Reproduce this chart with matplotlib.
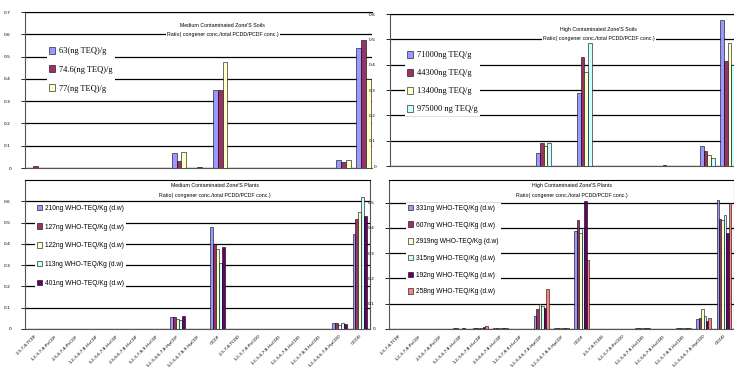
import numpy as np
import matplotlib.pyplot as plt

# congeners on the x axis (furans first, then dioxins)
congeners = ['2,3,7,8-TCDF', '1,2,3,7,8-PeCDF', '2,3,4,7,8-PeCDF',
             '1,2,3,4,7,8-HxCDF', '1,2,3,6,7,8-HxCDF', '2,3,4,6,7,8-HxCDF',
             '1,2,3,7,8,9-HxCDF', '1,2,3,4,6,7,8-HpCDF', '1,2,3,4,7,8,9-HpCDF',
             'OCDF', '2,3,7,8-TCDD', '1,2,3,7,8-PeCDD', '1,2,3,4,7,8-HxCDD',
             '1,2,3,6,7,8-HxCDD', '1,2,3,7,8,9-HxCDD', '1,2,3,4,6,7,8-HpCDD',
             'OCDD']

# medium contaminated soils
mso_labels = ['63(ng TEQ)/g', '74.6(ng TEQ)/g', '77(ng TEQ)/g']
mso_1 = [0, 0, 0, 0, 0, 0, 0, 0.067, 0, 0.35, 0, 0, 0, 0, 0, 0.035, 0.54]
mso_2 = [0.01, 0, 0, 0, 0, 0, 0, 0.03, 0.005, 0.35, 0, 0, 0, 0, 0, 0.027, 0.575]
mso_3 = [0, 0, 0, 0, 0, 0, 0, 0.072, 0, 0.475, 0, 0, 0, 0, 0, 0.035, 0.40]

# high contaminated soils
hso_labels = ['71000ng TEQ/g', '44300ng TEQ/g', '13400ng TEQ/g', '975000 ng TEQ/g']
hso_1 = [0, 0, 0, 0, 0, 0, 0, 0.05, 0, 0.29, 0, 0, 0, 0, 0, 0.08, 0.575]
hso_2 = [0, 0, 0, 0, 0, 0, 0, 0.09, 0, 0.43, 0, 0, 0, 0.005, 0, 0.06, 0.415]
hso_3 = [0, 0, 0, 0, 0, 0, 0, 0.08, 0, 0.37, 0, 0, 0, 0, 0, 0.045, 0.485]
hso_4 = [0, 0, 0, 0, 0, 0, 0, 0.09, 0, 0.485, 0, 0, 0, 0, 0, 0.03, 0.40]

# medium contaminated plants
mpl_labels = ['210ng WHO-TEQ/Kg (d.w)', '127ng WHO-TEQ/Kg (d.w)',
              '122ng WHO-TEQ/Kg (d.w)', '113ng WHO-TEQ/Kg (d.w)',
              '401ng WHO-TEQ/Kg (d.w)']
mpl_1 = [0, 0, 0, 0, 0, 0, 0, 0.056, 0, 0.48, 0, 0, 0, 0, 0, 0.028, 0.447]
mpl_2 = [0, 0, 0, 0, 0, 0, 0, 0.056, 0, 0.40, 0, 0, 0, 0, 0, 0.028, 0.516]
mpl_3 = [0, 0, 0, 0, 0, 0, 0, 0.047, 0, 0.377, 0, 0, 0, 0, 0, 0.02, 0.55]
mpl_4 = [0, 0, 0, 0, 0, 0, 0, 0.042, 0, 0.31, 0, 0, 0, 0, 0, 0.028, 0.62]
mpl_5 = [0, 0, 0, 0, 0, 0, 0, 0.06, 0, 0.386, 0, 0, 0, 0, 0, 0.022, 0.53]

# high contaminated plants
hpl_labels = ['331ng WHO-TEQ/Kg (d.w)', '607ng WHO-TEQ/Kg (d.w)',
              '2919ng WHO-TEQ/Kg (d.w)', '315ng WHO-TEQ/Kg (d.w)',
              '192ng WHO-TEQ/Kg (d.w)', '258ng WHO-TEQ/Kg (d.w)']
hpl_1 = [0, 0, 0, 0.002, 0.004, 0.002, 0, 0.05, 0.003, 0.39, 0, 0, 0.002, 0, 0.002, 0.04, 0.51]
hpl_2 = [0, 0, 0, 0.004, 0.005, 0.003, 0, 0.08, 0.003, 0.43, 0, 0, 0.003, 0, 0.003, 0.045, 0.437]
hpl_3 = [0, 0, 0, 0, 0.004, 0.002, 0, 0.10, 0.002, 0.38, 0, 0, 0.003, 0, 0.002, 0.08, 0.43]
hpl_4 = [0, 0, 0, 0, 0.005, 0.002, 0, 0.09, 0.002, 0.40, 0, 0, 0.002, 0, 0.002, 0.052, 0.45]
hpl_5 = [0, 0, 0, 0.003, 0.006, 0.003, 0, 0.083, 0.003, 0.505, 0, 0, 0.003, 0, 0.003, 0.03, 0.38]
hpl_6 = [0, 0, 0, 0, 0.01, 0.002, 0, 0.16, 0.002, 0.275, 0, 0, 0.002, 0, 0.002, 0.045, 0.50]

colors = ['#9999FF', '#993366', '#FFFFCC', '#CCFFFF', '#660066', '#FF8080']
subtitle = 'Ratio( congener conc./total PCDD/PCDF conc.)'

W, H = 734, 373
fig = plt.figure(figsize=(W / 100, H / 100), dpi=100)


def px_axes(x0, y0, x1, y1):
    # pixel box (top-left origin) -> figure axes
    return fig.add_axes([x0 / W, 1 - y1 / H, (x1 - x0) / W, (y1 - y0) / H])


def panel(ax, series, labels, title, ymax, ticks, title_x, title_y,
          leg_xy, leg_font, leg_space, show_x, xmax=16.5):
    n = len(series)
    x = np.arange(len(congeners))
    w = 0.72 / n
    for i, vals in enumerate(series):
        ax.bar(x - 0.36 + w * (i + 0.5), vals, w, color=colors[i],
               edgecolor='black', linewidth=0.4, label=labels[i], zorder=3)
    ax.set_xlim(-0.5, xmax)
    ax.set_ylim(0, ymax)
    ax.set_yticks(ticks)
    ax.set_yticklabels([f'{t:g}' for t in ticks], fontsize=3.2)
    ax.yaxis.grid(True, color='black', linewidth=0.9, zorder=0)
    ax.tick_params(axis='y', length=3, width=0.6, pad=7)
    ax.tick_params(axis='x', length=0)
    for s in ax.spines.values():
        s.set_color('#555555')
        s.set_linewidth(0.8)
    ax.spines['top'].set_color('black')
    if show_x:
        ax.set_xticks(x)
        ax.set_xticklabels(congeners, rotation=45, ha='right', fontsize=3.2,
                           rotation_mode='anchor')
    else:
        ax.set_xticks([])
    ax.text(title_x, title_y, title + '\n' + subtitle, transform=ax.transAxes,
            ha='center', va='center', fontsize=3.8, linespacing=2.1,
            family='Liberation Sans',
            bbox=dict(facecolor='white', edgecolor='none', pad=1), zorder=5)
    fam = 'Liberation Serif' if not show_x else 'Liberation Sans'
    leg = ax.legend(loc='upper left', bbox_to_anchor=leg_xy, frameon=True,
                    prop={'family': fam, 'size': leg_font},
                    labelspacing=leg_space, handlelength=0.7, handleheight=0.9,
                    handletextpad=0.5, borderpad=0.3, fancybox=False)
    leg.get_frame().set_edgecolor('none')
    leg.get_frame().set_facecolor('white')
    leg.get_frame().set_alpha(1)
    leg.set_zorder(6)


ax1 = px_axes(25, 12, 372, 168)
panel(ax1, [mso_1, mso_2, mso_3], mso_labels,
      "Medium Contaminated Zone'S Soils", 0.7, np.arange(0, 0.71, 0.1),
      0.57, 0.885, (0.05, 0.82), 6, 1.25, False, xmax=16.4)
ax1.spines['right'].set_visible(False)

ax2 = px_axes(390, 14, 738, 166)
panel(ax2, [hso_1, hso_2, hso_3, hso_4], hso_labels,
      "High Contaminated Zone'S Soils", 0.6, np.arange(0, 0.61, 0.1),
      0.6, 0.87, (0.03, 0.8), 6, 1.15, False)

ax3 = px_axes(25, 180, 370, 329)
panel(ax3, [mpl_1, mpl_2, mpl_3, mpl_4, mpl_5], mpl_labels,
      "Medium Contaminated Zone'S Plants", 0.7, np.arange(0, 0.61, 0.1),
      0.55, 0.93, (0.02, 0.87), 4.8, 1.75, True)

ax4 = px_axes(389, 180, 734, 329)
panel(ax4, [hpl_1, hpl_2, hpl_3, hpl_4, hpl_5, hpl_6], hpl_labels,
      "High Contaminated Zone'S Plants", 0.59, np.arange(0, 0.51, 0.1),
      0.53, 0.93, (0.04, 0.87), 4.8, 1.45, True)

fig.savefig('out.png', dpi=100)
